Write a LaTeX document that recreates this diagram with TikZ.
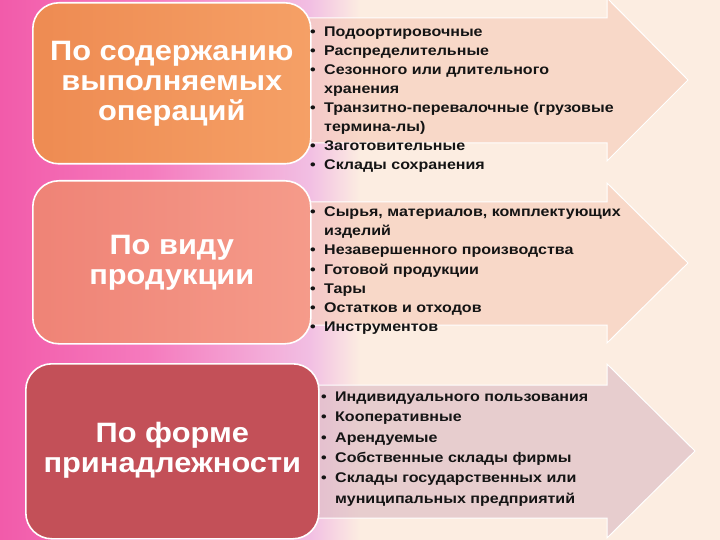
\documentclass[tikz,border=0pt]{standalone}
\usepackage{fontspec}
\setmainfont{Liberation Sans}
\newfontfamily\hdfont[FakeStretch=1.1]{Liberation Sans Bold}
\newfontfamily\blfont[FakeStretch=1.145]{Liberation Sans Bold}
\definecolor{pinkA}{HTML}{F25BAA}
\definecolor{pinkB}{HTML}{F57BBE}
\definecolor{pinkC}{HTML}{F2BFE3}
\definecolor{cream}{HTML}{FCEDE1}
\definecolor{boxOa}{HTML}{EE8B52}
\definecolor{boxOb}{HTML}{F5A066}
\definecolor{boxSa}{HTML}{EF8376}
\definecolor{boxSb}{HTML}{F59B8A}
\definecolor{boxR}{HTML}{C35058}
\definecolor{arrP}{HTML}{F6CDBB}
\definecolor{arrG}{HTML}{DDBDC5}
\definecolor{txt}{HTML}{141414}
\newcommand{\bul}{\makebox[14pt][l]{\textbullet}}
\newcommand{\cnt}{\hspace*{14pt}}
\tikzset{
  catbox/.style={draw=white, line width=1.6pt, rounded corners=26pt},
  arrowshape/.style={draw=white, line width=1pt, fill opacity=0.65},
  cattext/.style={text=white, align=center, font=\hdfont\fontsize{28}{30}\selectfont, inner sep=0pt},
  listtext/.style={anchor=base west, inner sep=0pt, text=txt},
}
\begin{document}
\begin{tikzpicture}[x=1pt,y=-1pt]
\useasboundingbox (0,0) rectangle (720,540);
% background
\fill[cream] (0,0) rectangle (720,540);
\shade[left color=pinkA, right color=pinkB] (0,0) rectangle (151,540);
\shade[left color=pinkB, right color=pinkC] (150,0) rectangle (311,540);
\shade[left color=pinkC, right color=cream] (310,0) rectangle (360,540);
% arrows
\path[arrowshape, fill=arrP] (290,18) -- (607,18) -- (607,-2) -- (688,80) -- (607,161) -- (607,143) -- (290,143) -- cycle;
\path[arrowshape, fill=arrP] (290,202) -- (607,202) -- (607,183) -- (688,263) -- (607,343) -- (607,325) -- (290,325) -- cycle;
\path[arrowshape, fill=arrG] (290,385) -- (607,385) -- (607,364) -- (695,451) -- (607,538) -- (607,518) -- (290,518) -- cycle;
% boxes
\node[catbox, left color=boxOa, right color=boxOb, minimum width=278pt, minimum height=161pt, anchor=north west] (b1) at (32,2) {};
\node[catbox, left color=boxSa, right color=boxSb, minimum width=278pt, minimum height=163pt, anchor=north west] (b2) at (32,180) {};
\node[catbox, fill=boxR, minimum width=293pt, minimum height=175pt, anchor=north west] (b3) at (25,363) {};
\node[cattext] (t1) at (b1.center) {По содержанию\\выполняемых\\операций};
\node[cattext] (t2) at (b2.center) {По виду\\продукции};
\node[cattext] (t3) at ([yshift=1pt]b3.center) {По форме\\принадлежности};
% lists
\node[listtext] (l1) at (310,36.5) {\parbox[t]{340pt}{\blfont\fontsize{14}{19.05}\selectfont
\bul Подоортировочные\\
\bul Распределительные\\
\bul Сезонного или длительного\\
\cnt хранения\\
\bul Транзитно-перевалочные (грузовые\\
\cnt термина-лы)\\
\bul Заготовительные\\
\bul Склады сохранения}};
\node[listtext] (l2) at (310,216.5) {\parbox[t]{340pt}{\blfont\fontsize{14}{19.2}\selectfont
\bul Сырья, материалов, комплектующих\\
\cnt изделий\\
\bul Незавершенного производства\\
\bul Готовой продукции\\
\bul Тары\\
\bul Остатков и отходов\\
\bul Инструментов}};
\node[listtext] (l3) at (321,401.5) {\parbox[t]{340pt}{\blfont\fontsize{14}{20.3}\selectfont
\bul Индивидуального пользования\\
\bul Кооперативные\\
\bul Арендуемые\\
\bul Собственные склады фирмы\\
\bul Склады государственных или\\
\cnt муниципальных предприятий}};
\end{tikzpicture}
\end{document}
